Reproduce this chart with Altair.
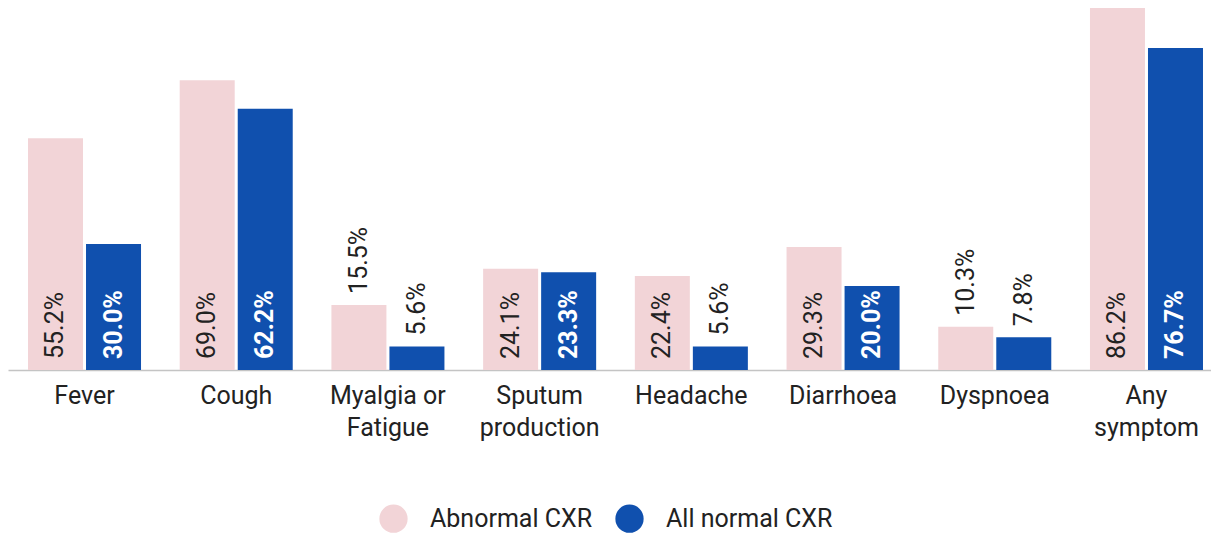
import altair as alt
import pandas as pd

categories = ["Fever", "Cough", "Myalgia or Fatigue", "Sputum production",
              "Headache", "Diarrhoea", "Dyspnoea", "Any symptom"]
series = ["Abnormal CXR", "All normal CXR"]
abnormal = [55.2, 69.0, 15.5, 24.1, 22.4, 29.3, 10.3, 86.2]
normal = [30.0, 62.2, 5.6, 23.3, 5.6, 20.0, 7.8, 76.7]
colors = ["#f2d4d7", "#1050ae"]

rows = []
for c, a, n in zip(categories, abnormal, normal):
    rows.append({"cat": c, "series": series[0], "value": a})
    rows.append({"cat": c, "series": series[1], "value": n})
df = pd.DataFrame(rows)

FONT = "Roboto"

x = alt.X("cat:N", sort=categories, title=None,
          scale=alt.Scale(paddingInner=0.255, paddingOuter=0.0923, align=0.714),
          axis=alt.Axis(labelAngle=0, labelFontSize=25, labelColor="#222222",
                        labelFont=FONT, ticks=False, domainColor="#c4c4c4",
                        domainWidth=1.5, labelPadding=13, labelLineHeight=32,
                        labelBaseline="top",
                        labelExpr="datum.label == 'Myalgia or Fatigue' ? ['Myalgia or', 'Fatigue'] : split(datum.label, ' ')"))
xo = alt.XOffset("series:N", sort=series, scale=alt.Scale(paddingInner=0.052))
yscale = alt.Scale(domain=[0, 86.2], nice=False)
y = alt.Y("value:Q", axis=None, scale=yscale)

base = alt.Chart(df).encode(x=x, xOffset=xo)

bars = base.mark_bar().encode(
    y=y,
    color=alt.Color("series:N", sort=series, title=None,
                    scale=alt.Scale(domain=series, range=colors),
                    legend=alt.Legend(orient="none", direction="horizontal",
                                      legendX=371, legendY=496, padding=0,
                                      symbolType="circle",
                                      symbolSize=800, symbolStrokeWidth=0,
                                      labelFontSize=25, labelFont=FONT,
                                      labelLimit=400,
                                      labelColor="#222222", columnPadding=22,
                                      labelOffset=22)),
)

labels = base.transform_calculate(
    inside="datum.value >= 20",
    ly="datum.value >= 20 ? 0 : datum.value",
    txt="format(datum.value, '.1f') + '%'",
)

lab_white = labels.transform_filter(
    "datum.inside && datum.series == 'All normal CXR'"
).mark_text(angle=270, align="left", baseline="middle", dx=11,
            fontSize=25, font=FONT, fontWeight="bold", color="white").encode(
    y=alt.Y("ly:Q", scale=yscale, axis=None),
    text="txt:N")

lab_dark = labels.transform_filter(
    "!(datum.inside && datum.series == 'All normal CXR')"
).mark_text(angle=270, align="left", baseline="middle", dx=11,
            fontSize=25, font=FONT, color="#222222").encode(
    y=alt.Y("ly:Q", scale=yscale, axis=None),
    text="txt:N")

chart = alt.layer(bars, lab_white, lab_dark).properties(
    width=1203, height=362, padding=0
).configure(font=FONT).configure_view(stroke=None, strokeWidth=0)

chart.save("out.html", embed_options={"renderer": "svg", "actions": False})
